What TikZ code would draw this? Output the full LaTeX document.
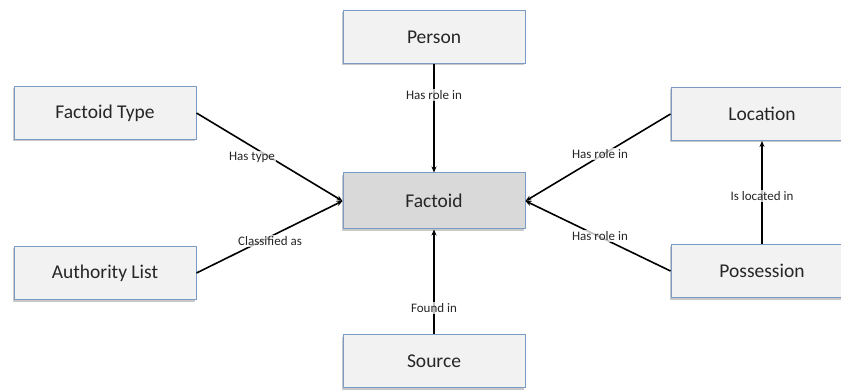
\documentclass[tikz,border=0pt]{standalone}
\usepackage{fontspec}
\setmainfont{Carlito}
\usetikzlibrary{arrows.meta,shadows}
\definecolor{boxline}{HTML}{7A9CC4}
\definecolor{boxfill}{HTML}{F2F2F2}
\definecolor{corefill}{HTML}{D9D9D9}
\definecolor{txt}{HTML}{262626}
\tikzset{
  entity/.style={draw=boxline, line width=1pt, fill=boxfill,
    minimum width=182pt, minimum height=53pt, inner sep=0pt,
    font=\fontsize{19.5}{22}\selectfont, text=txt,
    drop shadow={shadow xshift=-1.5pt, shadow yshift=-2pt, opacity=0.35, fill=black!60}},
  core/.style={entity, fill=corefill, minimum height=56pt},
  link/.style={line width=1.6pt, -{Stealth[length=6pt,width=5pt]}},
  rel/.style={fill=white, fill opacity=0.75, text opacity=1, text=txt,
    inner sep=1pt, font=\fontsize{13}{15}\selectfont}
}
\begin{document}
\begin{tikzpicture}[x=1pt,y=-1pt]
\useasboundingbox (0,0) rectangle (841,390);
\clip (0,0) rectangle (841,390);
\fill[white] (0,0) rectangle (841,390);

% entities
\node[entity] (person) at (434,37) {Person};
\node[core]   (factoid) at (434,201) {Factoid};
\node[entity] (source) at (434,361) {Source};
\node[entity] (ftype) at (105,113) {Factoid Type};
\node[entity] (alist) at (105,273) {Authority List};
\node[entity] (loc) at (762,114) {Location};
\node[entity] (poss) at (762,271) {Possession};

% relationships
\draw[link] (person) -- (factoid);
\draw[link] (source) -- (factoid);
\draw[link] (ftype.east) -- (factoid.west);
\draw[link] (alist.east) -- (factoid.west);
\draw[link] (loc.west) -- (factoid.east);
\draw[link] (poss.west) -- (factoid.east);
\draw[link] (poss) -- (loc);

% relationship labels
\node[rel] (l1) at (434,95) {Has role in};
\node[rel] (l2) at (252,157) {Has type};
\node[rel] (l3) at (270,241) {Classified as};
\node[rel] (l4) at (600,154) {Has role in};
\node[rel] (l5) at (600,236) {Has role in};
\node[rel] (l6) at (762,196) {Is located in};
\node[rel] (l7) at (434,308) {Found in};
\end{tikzpicture}
\end{document}
